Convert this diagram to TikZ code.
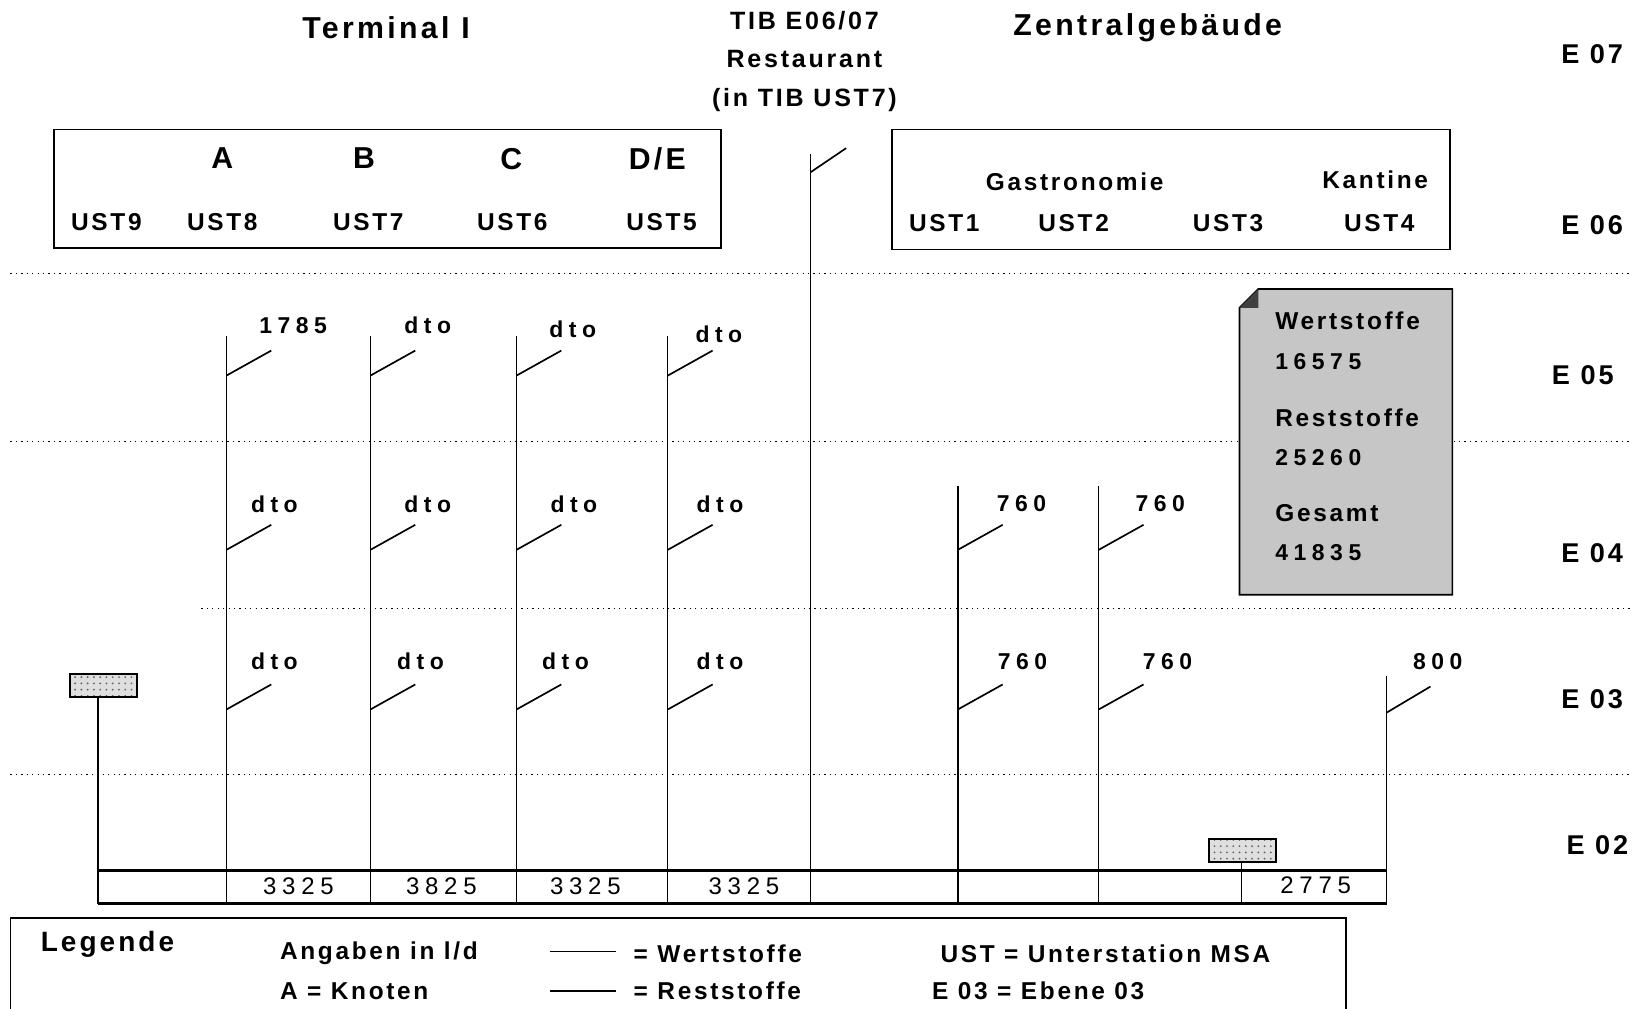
\documentclass[tikz,border=0pt]{standalone}
\usepackage{fontspec}
\setmainfont{Liberation Sans}[LetterSpace=11]
\newfontfamily\numfont{Liberation Sans}[LetterSpace=24]
\usetikzlibrary{positioning,patterns}
\tikzset{
  hd/.style={font=\bfseries\fontsize{14.5}{16}\selectfont, inner sep=0pt},
  sub/.style={font=\bfseries\fontsize{12}{14}\selectfont, inner sep=0pt},
  ust/.style={font=\bfseries\fontsize{11.7}{14}\selectfont, inner sep=0pt},
  lvl/.style={font=\bfseries\fontsize{13}{15}\selectfont, inner sep=0pt},
  val/.style={font=\numfont\bfseries\fontsize{11}{13}\selectfont, inner sep=0pt},
  sumval/.style={font=\numfont\fontsize{11.5}{13}\selectfont, inner sep=0pt},
  lgd/.style={font=\bfseries\fontsize{11.7}{14}\selectfont, inner sep=0pt, anchor=west},
  riser/.style={line width=0.7pt},
  tick/.style={line width=0.8pt},
  floor/.style={dotted, line width=0.6pt},
  frame/.style={draw, line width=0.8pt},
  store/.style={draw, line width=0.9pt, preaction={fill=gray!25}, pattern=dots, pattern color=gray!80!black}
}
\begin{document}
\begin{tikzpicture}[x=0.5pt, y=-0.5pt]
\useasboundingbox (0,0) rectangle (1568,967);
% headings
\node[hd] (term) at (370,27) {Terminal I};
\node[sub] (tib) at (771,20) {TIB E06/07};
\node[sub] (rest) at (771,57) {Restaurant};
\node[sub] (intib) at (771,96) {(in TIB UST7)};
\node[hd] (zentral) at (1100,27) {Zentralgeb\"aude};

% building boxes
\draw[frame] (52,124) rectangle (691,238);
\draw[frame] (855,124) rectangle (1390,239);
\node[hd] (knA) at (213,152) {A}; \node[hd] (knB) at (349,152) {B};
\node[hd] (knC) at (490,152) {C}; \node[hd] (knDE) at (630,152) {D/E};
\node[ust] (ust9) at (102,213) {UST9}; \node[ust] (ust8) at (213,213) {UST8};
\node[ust] (ust7) at (353,213) {UST7}; \node[ust] (ust6) at (491,213) {UST6};
\node[ust] (ust5) at (634,213) {UST5};
\node[ust] (gastro) at (1030,174) {Gastronomie}; \node[ust] (kantine) at (1318,172) {Kantine};
\node[ust] (ust1) at (905,214) {UST1}; \node[ust] (ust2) at (1029,214) {UST2};
\node[ust] (ust3) at (1177,214) {UST3}; \node[ust] (ust4) at (1322,214) {UST4};

% levels
\node[lvl] (e07) at (1526,52) {E 07};
\node[lvl] (e06) at (1526,216) {E 06};
\node[lvl] (e05) at (1517,360) {E 05};
\node[lvl] (e04) at (1526,530) {E 04};
\node[lvl] (e03) at (1526,670) {E 03};
\node[lvl] (e02) at (1531,810) {E 02};
\draw[floor] (10,262) -- (1562,262);
\draw[floor] (10,423) -- (1562,423);
\draw[floor] (193,583) -- (1562,583);
\draw[floor] (10,742) -- (1562,742);

% risers
\draw[riser] (777,148) -- (777,866); \draw[tick] (777,165) -- ++(34,-23);
\draw[riser] (217,322) -- (217,866); \draw[riser] (355,322) -- (355,866);
\draw[riser] (495,322) -- (495,866); \draw[riser] (640,322) -- (640,866);
\draw[riser] (918,466) -- (918,866); \draw[riser] (1053,466) -- (1053,866);
\draw[riser] (1329,648) -- (1329,866);
\draw[store] (67,646) rectangle (131,668); \draw[riser] (94,668) -- (94,866);
\draw[store] (1159,804) rectangle (1223,826); \draw[riser] (1190,826) -- (1190,866);

% E 05
\draw[tick] (217,360) -- ++(43,-24); \node[val] (v1785) at (281,312) {1785};
\draw[tick] (355,360) -- ++(43,-24); \node[val] (b05) at (410,312) {dto};
\draw[tick] (495,360) -- ++(43,-24); \node[val] (c05) at (549,316) {dto};
\draw[tick] (640,360) -- ++(43,-24); \node[val] (d05) at (689,320) {dto};
% E 04
\draw[tick] (217,527) -- ++(43,-24); \node[val] (a04) at (263,483) {dto};
\draw[tick] (355,527) -- ++(43,-24); \node[val] (b04) at (410,483) {dto};
\draw[tick] (495,527) -- ++(43,-24); \node[val] (c04) at (550,483) {dto};
\draw[tick] (640,527) -- ++(43,-24); \node[val] (d04) at (690,483) {dto};
\draw[tick] (918,527) -- ++(43,-24); \node[val] (g104) at (979,483) {760};
\draw[tick] (1053,527) -- ++(43,-24); \node[val] (g204) at (1112,483) {760};
% E 03
\draw[tick] (217,680) -- ++(43,-24); \node[val] (a03) at (263,634) {dto};
\draw[tick] (355,680) -- ++(43,-24); \node[val] (b03) at (403,634) {dto};
\draw[tick] (495,680) -- ++(43,-24); \node[val] (c03) at (542,634) {dto};
\draw[tick] (640,680) -- ++(43,-24); \node[val] (d03) at (690,634) {dto};
\draw[tick] (918,680) -- ++(43,-24); \node[val] (g103) at (980,634) {760};
\draw[tick] (1053,680) -- ++(43,-24); \node[val] (g203) at (1119,634) {760};
\draw[tick] (1329,683) -- ++(42,-25); \node[val] (k03) at (1378,634) {800};

% collector
\draw[line width=1.4pt] (94,834) -- (1329,834);
\draw[line width=1.2pt] (94,866) -- (1329,866);
\node[sumval] (sA) at (286,849) {3325}; \node[sumval] (sB) at (423,849) {3825};
\node[sumval] (sC) at (561,849) {3325}; \node[sumval] (sD) at (713,849) {3325};
\node[sumval] (sK) at (1261,848) {2775};

% totals
\draw[frame, fill=gray!45] (1206,277) -- (1392,277) -- (1392,570) -- (1188,570) -- (1188,295) -- cycle;
\fill[black!75] (1188,295) -- (1206,277) -- (1206,295) -- cycle;
\node[ust, anchor=west] (wert) at (1222,307) {Wertstoffe};
\node[val, anchor=west] (wertv) at (1222,347) {16575};
\node[ust, anchor=west] (rest2) at (1222,400) {Reststoffe};
\node[val, anchor=west] (restv) at (1222,439) {25260};
\node[ust, anchor=west] (ges) at (1222,492) {Gesamt};
\node[val, anchor=west] (gesv) at (1222,530) {41835};

% legend
\draw[line width=0.8pt] (10,975) -- (10,880) -- (1290,880) -- (1290,975);
\node[font=\bfseries\fontsize{13.4}{15}\selectfont, inner sep=0pt] (leg) at (103,905) {Legende};
\node[lgd] (ang) at (268,914) {Angaben in l/d};
\node[lgd] (knot) at (268,950) {A = Knoten};
\draw[line width=0.6pt] (527,912) -- (590,912); \node[lgd] (lw) at (607,914) {= Wertstoffe};
\draw[line width=0.9pt] (527,950) -- (590,950); \node[lgd] (lr) at (607,950) {= Reststoffe};
\node[lgd] (lust) at (901,914) {UST = Unterstation MSA};
\node[lgd] (lebe) at (893,950) {E 03 = Ebene 03};
\end{tikzpicture}
\end{document}
